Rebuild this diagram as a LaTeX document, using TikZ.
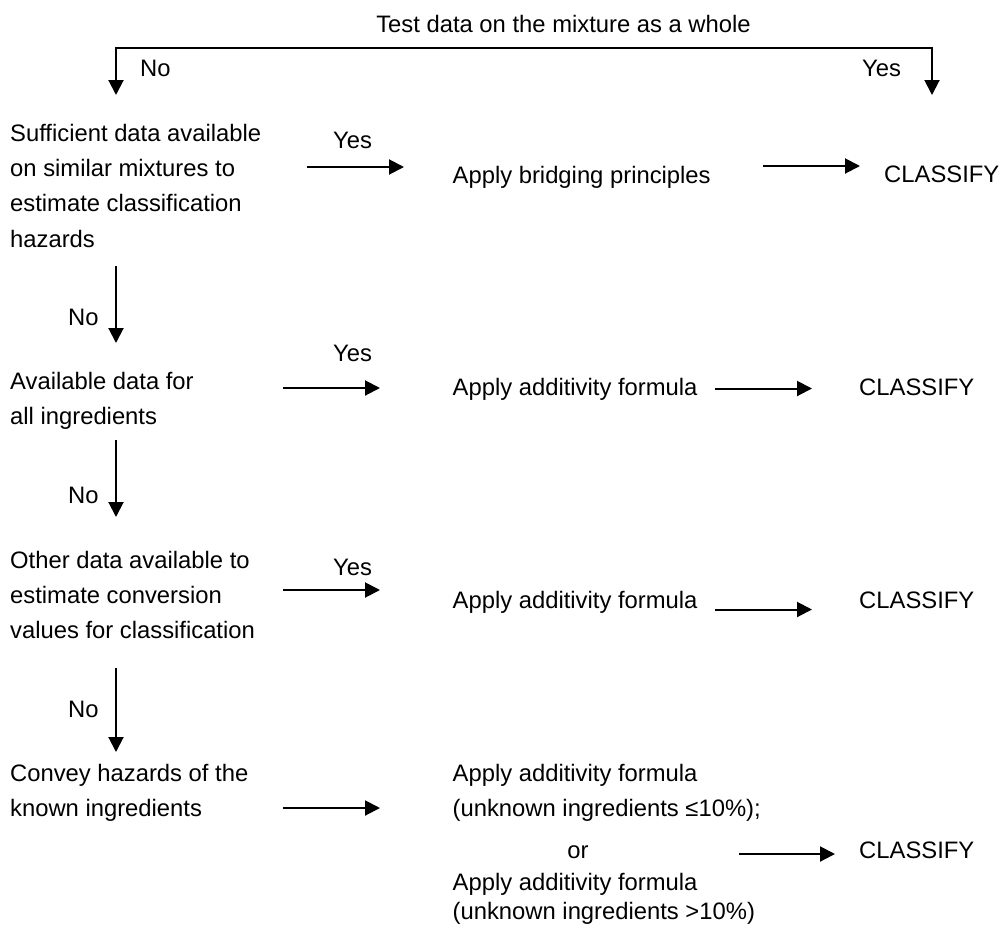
\documentclass[tikz,border=0pt]{standalone}
\usepackage{fontspec}
\setmainfont{Liberation Sans}
\usetikzlibrary{arrows.meta}
\begin{document}
\begin{tikzpicture}[x=1pt,y=-1pt,
  lbl/.style={font=\fontsize{23.8}{35.4}\selectfont, inner sep=0pt, anchor=base west},
  blk/.style={font=\fontsize{23.8}{35.4}\selectfont, inner sep=0pt, anchor=north west, align=left, execute at begin node=\strut},
  blktight/.style={font=\fontsize{23.8}{28.5}\selectfont, inner sep=0pt, anchor=north west, align=left, execute at begin node=\strut},
  arr/.style={line width=2pt, -{Triangle[length=15pt,width=15pt]}},
  barr/.style={line width=2pt, {Triangle[length=15pt,width=15pt]}-{Triangle[length=15pt,width=15pt]}}
]
\useasboundingbox (0,0) rectangle (1003,927);

% title and top bracket
\node[lbl, anchor=base] (title) at (563.5,32.2) {Test data on the mixture as a whole};
\coordinate (topmid) at (563.5,48);
\coordinate (tipL) at (116,95);
\coordinate (tipR) at (932,95);
\draw[barr] (tipL) |- (topmid) -| (tipR);
\node[lbl] (noTop) at (140,76.5) {No};
\node[lbl] (yesTop) at (862,76.5) {Yes};

% row 1
\node[blk] (q1) at (10,123.72) {Sufficient data available\\on similar mixtures to\\estimate classification\\hazards};
\node[lbl] (yes1) at (333,148.5) {Yes};
\coordinate (a1s) at (307,167); \coordinate (a1e) at (404,167);
\draw[arr] (a1s) -- (a1e);
\node[lbl] (r1) at (452.5,183.5) {Apply bridging principles};
\coordinate (b1s) at (763,166); \coordinate (b1e) at (860,166);
\draw[arr] (b1s) -- (b1e);
\node[lbl] (c1) at (884,182) {CLASSIFY};
\coordinate (d1s) at (116,266); \coordinate (d1e) at (116,343);
\draw[arr] (d1s) -- (d1e);
\node[lbl] (no1) at (68,325.5) {No};

% row 2
\node[blk] (q2) at (10,371.72) {Available data for\\all ingredients};
\node[lbl] (yes2) at (333,361.5) {Yes};
\coordinate (a2s) at (283,388); \coordinate (a2e) at (380,388);
\draw[arr] (a2s) -- (a2e);
\node[lbl] (r2) at (452.5,395.5) {Apply additivity formula};
\coordinate (b2s) at (715,388.5); \coordinate (b2e) at (812,388.5);
\draw[arr] (b2s) -- (b2e);
\node[lbl] (c2) at (859,395.5) {CLASSIFY};
\coordinate (d2s) at (116,440); \coordinate (d2e) at (116,517);
\draw[arr] (d2s) -- (d2e);
\node[lbl] (no2) at (68,503.5) {No};

% row 3
\node[blk] (q3) at (10,550.72) {Other data available to\\estimate conversion\\values for classification};
\node[lbl] (yes3) at (333,575.5) {Yes};
\coordinate (a3s) at (283,590); \coordinate (a3e) at (380,590);
\draw[arr] (a3s) -- (a3e);
\node[lbl] (r3) at (452.5,608.5) {Apply additivity formula};
\coordinate (b3s) at (715,609.5); \coordinate (b3e) at (812,609.5);
\draw[arr] (b3s) -- (b3e);
\node[lbl] (c3) at (859,608.5) {CLASSIFY};
\coordinate (d3s) at (116,668); \coordinate (d3e) at (116,752);
\draw[arr] (d3s) -- (d3e);
\node[lbl] (no3) at (68,717.5) {No};

% row 4
\node[blk] (q4) at (10,763.72) {Convey hazards of the\\known ingredients};
\coordinate (a4s) at (283,808); \coordinate (a4e) at (380,808);
\draw[arr] (a4s) -- (a4e);
\node[blk] (r4a) at (452.5,763.72) {Apply additivity formula\\(unknown ingredients ≤10\%);};
\node[lbl, anchor=base] (r4or) at (578,858) {or};
\node[blktight] (r4b) at (452.5,873.05) {Apply additivity formula\\(unknown ingredients >10\%)};
\coordinate (b4s) at (739,854); \coordinate (b4e) at (835,854);
\draw[arr] (b4s) -- (b4e);
\node[lbl] (c4) at (859,858.5) {CLASSIFY};
\end{tikzpicture}
\end{document}
